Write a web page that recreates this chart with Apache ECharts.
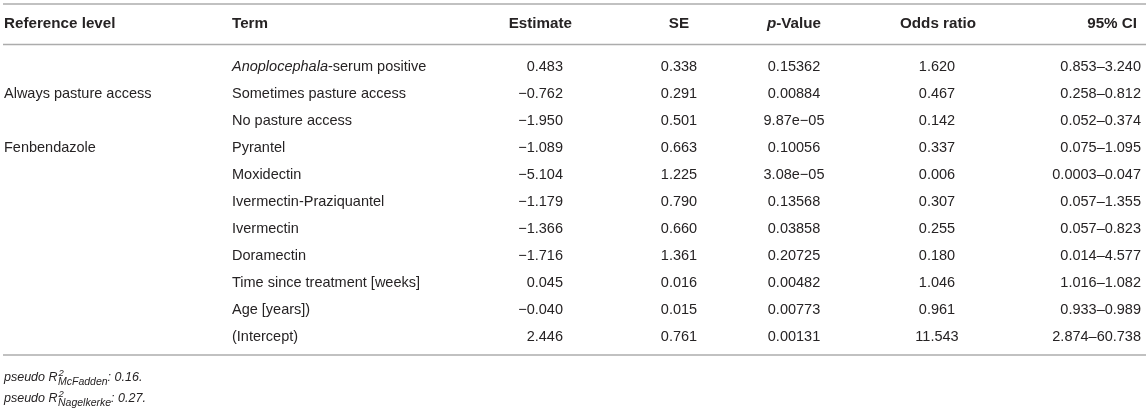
<!DOCTYPE html>
<html>
<head>
<meta charset="utf-8">
<script src="https://cdn.jsdelivr.net/npm/echarts@6/dist/echarts.min.js"></script>
<style>
  html, body { margin: 0; padding: 0; background: #fff; }
  #main { width: 1146px; height: 409px; }
</style>
</head>
<body>
<div id="main"></div>
<script>
// table content
var headers = ['Reference level', 'Term', 'Estimate', 'SE', '{i|p}-Value', 'Odds ratio', '95% CI'];
var referenceLevel = ['', 'Always pasture access', '', 'Fenbendazole', '', '', '', '', '', '', ''];
var terms = ['{i|Anoplocephala}-serum positive', 'Sometimes pasture access', 'No pasture access', 'Pyrantel',
  'Moxidectin', 'Ivermectin-Praziquantel', 'Ivermectin', 'Doramectin', 'Time since treatment [weeks]',
  'Age [years])', '(Intercept)'];
var estimate = ['0.483', '−0.762', '−1.950', '−1.089', '−5.104', '−1.179', '−1.366', '−1.716', '0.045', '−0.040', '2.446'];
var se = ['0.338', '0.291', '0.501', '0.663', '1.225', '0.790', '0.660', '1.361', '0.016', '0.015', '0.761'];
var pValue = ['0.15362', '0.00884', '9.87e−05', '0.10056', '3.08e−05', '0.13568', '0.03858', '0.20725', '0.00482', '0.00773', '0.00131'];
var oddsRatio = ['1.620', '0.467', '0.142', '0.337', '0.006', '0.307', '0.255', '0.180', '1.046', '0.961', '11.543'];
var ci = ['0.853–3.240', '0.258–0.812', '0.052–0.374', '0.075–1.095', '0.0003–0.047', '0.057–1.355',
  '0.057–0.823', '0.014–4.577', '1.016–1.082', '0.933–0.989', '2.874–60.738'];
var fitStats = [['McFadden', '0.16'], ['Nagelkerke', '0.27']];

// layout (x in px on a 0..1146 axis, y in row units)
var FONT = 'Liberation Sans, Arial, Helvetica, sans-serif';
var SIZE = 14.5, HEAD_SIZE = 15.2;
var INK = '#262324';
var ROW0 = 67, ROWH = 27;
function rowOf(py) { return (py - ROW0) / ROWH; }

var columns = [
  { cells: referenceLevel, x: 4, align: 'left', hx: 4, halign: 'left' },
  { cells: terms, x: 232, align: 'left', hx: 232, halign: 'left' },
  { cells: estimate, x: 563, align: 'right', hx: 572, halign: 'right' },
  { cells: se, x: 679, align: 'center', hx: 679, halign: 'center' },
  { cells: pValue, x: 794, align: 'center', hx: 794, halign: 'center' },
  { cells: oddsRatio, x: 937, align: 'center', hx: 938, halign: 'center' },
  { cells: ci, x: 1141, align: 'right', hx: 1137, halign: 'right' }
];
var headerRow = rowOf(24);
var rules = [rowOf(4), rowOf(44.5), rowOf(355)];
var noteRows = [rowOf(378), rowOf(399)];

function textEl(pt, text, align, bold) {
  var size = bold ? HEAD_SIZE : SIZE;
  return {
    type: 'text', x: pt[0], y: pt[1],
    style: {
      text: text, align: align, verticalAlign: 'middle',
      fontFamily: FONT, fontSize: size, fontWeight: bold ? 'bold' : 'normal', fill: INK,
      rich: { i: { fontStyle: 'italic', fontFamily: FONT, fontSize: size, fontWeight: bold ? 'bold' : 'normal', fill: INK } }
    }
  };
}

var cellData = [];
columns.forEach(function (col, c) {
  cellData.push([col.hx, headerRow, headers[c], col.halign, 1]);
  col.cells.forEach(function (t, r) {
    if (t) cellData.push([col.x, r, t, col.align, 0]);
  });
});

var measure = document.createElement('canvas').getContext('2d');
function widthOf(text, font) { measure.font = font; return measure.measureText(text).width; }

var chart = echarts.init(document.getElementById('main'));
chart.setOption({
  animation: false,
  grid: { left: 0, right: 0, top: 0, bottom: 0 },
  xAxis: { type: 'value', min: 0, max: 1146, show: false },
  yAxis: { type: 'value', inverse: true, min: rowOf(0), max: rowOf(409), show: false },
  series: [
    {
      type: 'custom', clip: false, silent: true,
      data: rules.map(function (y) { return [y]; }),
      renderItem: function (params, api) {
        var a = api.coord([3, api.value(0)]);
        var b = api.coord([1146, api.value(0)]);
        return { type: 'line', shape: { x1: a[0], y1: a[1], x2: b[0], y2: b[1] },
          style: { stroke: '#acacac', lineWidth: 1.6 } };
      }
    },
    {
      type: 'custom', clip: false, silent: true,
      dimensions: ['x', 'y', 'text', 'align', 'bold'],
      encode: { x: 0, y: 1 },
      data: cellData,
      renderItem: function (params, api) {
        var d = cellData[params.dataIndex];
        return textEl(api.coord([d[0], d[1]]), d[2], d[3], d[4]);
      }
    },
    {
      type: 'custom', clip: false, silent: true,
      data: fitStats.map(function (s, i) { return [4, noteRows[i]]; }),
      renderItem: function (params, api) {
        var s = fitStats[params.dataIndex];
        var pt = api.coord([api.value(0), api.value(1)]);
        var fs = 12.5, sub = 10.5, sup = 9.5;
        var w0 = widthOf('pseudo R', 'italic ' + fs + 'px ' + FONT);
        var wSub = widthOf(s[0], 'italic ' + sub + 'px ' + FONT);
        var st = function (t, size, dy, x) {
          return { type: 'text', x: pt[0] + x, y: pt[1] + dy,
            style: { text: t, fontFamily: FONT, fontSize: size, fontStyle: 'italic', fill: INK,
              align: 'left', verticalAlign: 'middle' } };
        };
        return { type: 'group', children: [
          st('pseudo R', fs, 0, 0),
          st('2', sup, -5, w0 + 1),
          st(s[0], sub, 4, w0 + 0.5),
          st(': ' + s[1] + '.', fs, 0, w0 + 0.5 + wSub)
        ] };
      }
    }
  ]
});
</script>
</body>
</html>
